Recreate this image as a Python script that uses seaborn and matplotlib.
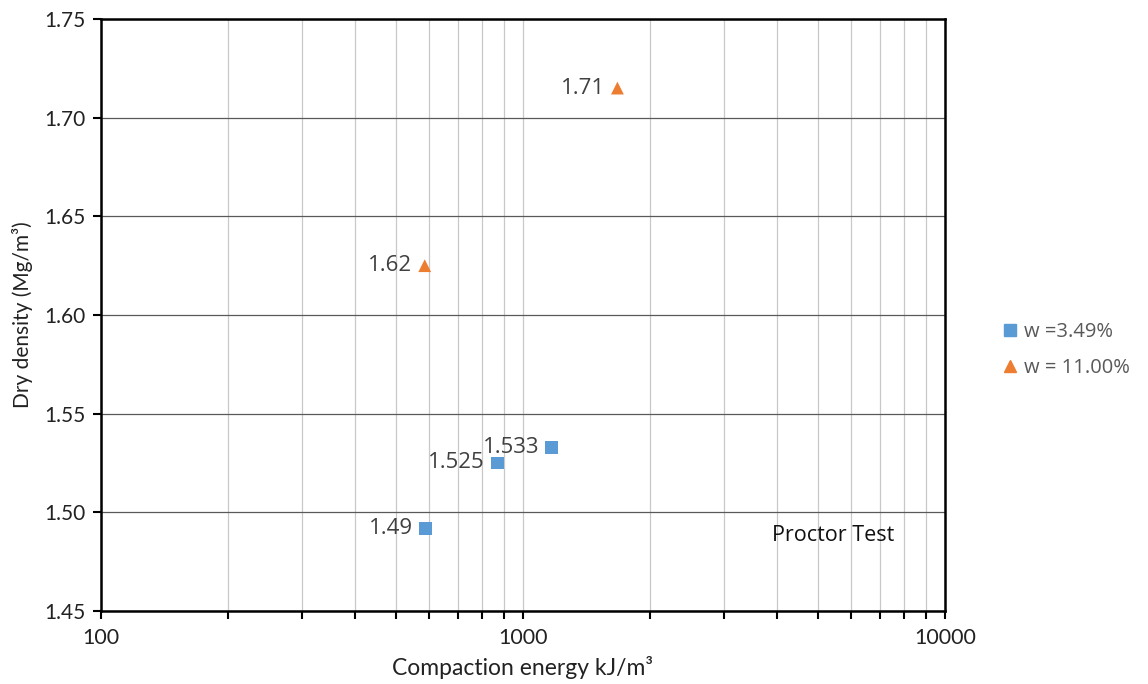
import matplotlib
matplotlib.use("Agg")
import matplotlib.pyplot as plt
import seaborn as sns
import pandas as pd
from matplotlib.ticker import LogLocator, NullFormatter
from matplotlib.lines import Line2D

energy_w1 = [588, 870, 1168]
density_w1 = [1.492, 1.525, 1.533]
labels_w1 = ["1.49", "1.525", "1.533"]

energy_w2 = [585, 1674]
density_w2 = [1.625, 1.715]
labels_w2 = ["1.62", "1.71"]

series_names = ["w =3.49%", "w = 11.00%"]
colors = ["#5B9BD5", "#ED7D31"]
y_ticks = [1.45, 1.50, 1.55, 1.60, 1.65, 1.70, 1.75]
x_ticks = [100, 1000, 10000]

df = pd.DataFrame({
    "energy": energy_w1 + energy_w2,
    "density": density_w1 + density_w2,
    "series": [series_names[0]] * len(energy_w1) + [series_names[1]] * len(energy_w2),
})

sns.set_style("white")
plt.rcParams["font.family"] = ["Lato", "DejaVu Sans"]

fig = plt.figure(figsize=(11.48, 6.84), dpi=100)
ax = fig.add_axes([101 / 1148, 1 - 611 / 684, (945 - 101) / 1148, (611 - 19) / 684])

sns.scatterplot(data=df, x="energy", y="density", hue="series", style="series",
                markers={series_names[0]: "s", series_names[1]: "^"},
                palette=dict(zip(series_names, colors)), s=85, linewidth=0,
                ax=ax, legend=False, zorder=3)

ax.set_xscale("log")
ax.set_xlim(100, 10000)
ax.set_ylim(1.45, 1.75)
ax.set_yticks(y_ticks)
ax.set_yticklabels([f"{v:.2f}" for v in y_ticks])
ax.set_xticks(x_ticks)
ax.set_xticklabels([str(v) for v in x_ticks])
ax.xaxis.set_minor_locator(LogLocator(base=10, subs=range(2, 10)))
ax.xaxis.set_minor_formatter(NullFormatter())

ax.grid(False)
ax.yaxis.grid(True, which="major", color="#595959", linewidth=0.9)
ax.xaxis.grid(True, which="both", color="#c8c8c8", linewidth=0.9)
ax.set_axisbelow(True)

for s in ax.spines.values():
    s.set_color("black")
    s.set_linewidth(1.8)

ax.tick_params(axis="x", which="both", bottom=True, direction="out", length=6, width=1.5,
               color="black")
ax.tick_params(axis="x", which="major", labelsize=15.5, pad=6, labelcolor="#222222")
ax.tick_params(axis="y", which="major", left=True, direction="out", length=6, width=1.5,
               color="black", labelsize=15, labelcolor="#222222", pad=5)

ax.set_xlabel("Compaction energy kJ/m³", fontsize=16.5, labelpad=6, color="#222222")
ax.set_ylabel("Dry density (Mg/m³)", fontsize=15, labelpad=8, color="#222222")

for x, y, t in list(zip(energy_w1, density_w1, labels_w1)) + list(zip(energy_w2, density_w2, labels_w2)):
    ax.annotate(t, (x, y), xytext=(-9, 0), textcoords="offset points",
                ha="right", va="center", fontsize=16, color="#404040",
                family=["Open Sans", "DejaVu Sans"])

ax.text(0.94, 0.128, "Proctor Test", transform=ax.transAxes, ha="right", va="center",
        fontsize=15.5, color="#111111", family=["Open Sans", "DejaVu Sans"])

handles = [Line2D([], [], marker="s", linestyle="", color=colors[0], markersize=8),
           Line2D([], [], marker="^", linestyle="", color=colors[1], markersize=8)]
fig.legend(handles, series_names, loc="center left", bbox_to_anchor=(980 / 1148, 1 - 350 / 684),
           frameon=False, prop={"family": ["Open Sans", "DejaVu Sans"], "size": 14.5},
           labelcolor="#595959", handletextpad=0.1, handlelength=1.2, labelspacing=0.8)

fig.savefig("out.png", dpi=100)
